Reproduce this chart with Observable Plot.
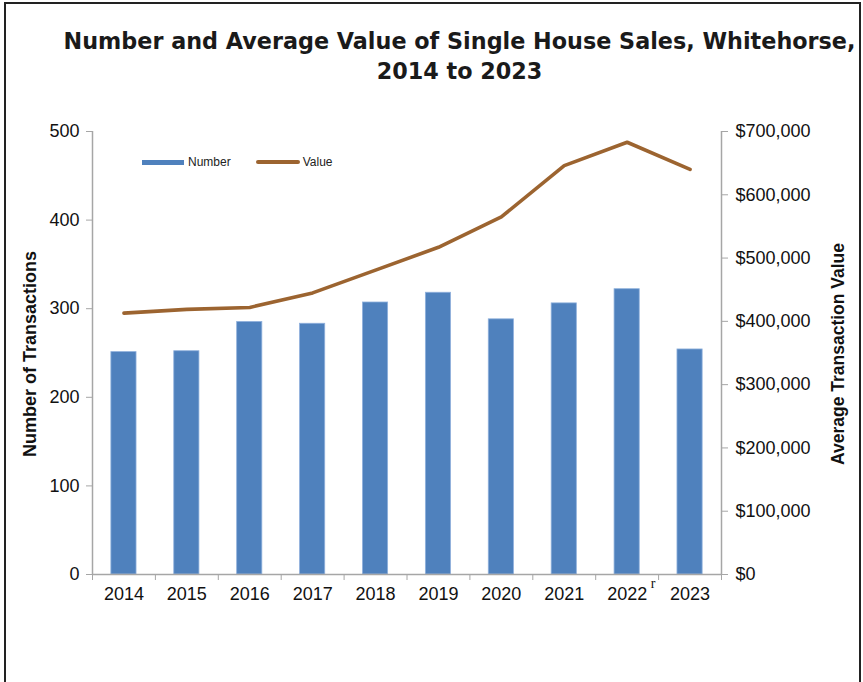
<!DOCTYPE html>
<html>
<head>
<meta charset="utf-8">
<script src="https://cdn.jsdelivr.net/npm/d3@7"></script>
<script src="https://cdn.jsdelivr.net/npm/@observablehq/plot@0.6"></script>
<style>
  html, body { margin: 0; padding: 0; background: #fff; }
  #wrap { position: relative; width: 863px; height: 682px; overflow: hidden; background: #fff; }
  #frame { position: absolute; left: 4px; top: 2px; width: 853px; height: 720px; border: 2px solid #222; pointer-events: none; }
  #title { position: absolute; left: 56px; top: 26px; width: 807px; text-align: center;
    font-family: "DejaVu Sans", sans-serif; font-weight: 700; font-size: 22.3px; line-height: 30px; color: #1a1a1a; }
  #plot { position: absolute; left: 0; top: 100px; }
  #legend { position: absolute; top: 155px; left: 142px; font-family: "Liberation Sans", Arial, sans-serif; font-size: 12px; color: #222; display: flex; align-items: center; }
  .sw { display: inline-block; }
</style>
</head>
<body>
<div id="wrap">
  <div id="title">Number and Average Value of Single House Sales, Whitehorse,<br>2014 to 2023</div>
  <div id="plot"></div>
  <div id="legend">
    <span class="sw" style="width:42px;height:5px;background:#4F81BD;margin-right:4px;"></span><span>Number</span>
    <span class="sw" style="width:44px;height:3.5px;background:#9C6430;border-radius:2px;margin-left:25px;margin-right:3px;"></span><span>Value</span>
  </div>
  <div id="frame"></div>
</div>
<script>
const years = [2014, 2015, 2016, 2017, 2018, 2019, 2020, 2021, 2022, 2023];
const numbers = [251, 252, 285, 283, 307, 318, 288, 306, 322, 254];
const values = [413000, 419000, 422000, 445000, 481000, 517000, 565000, 646000, 683000, 640000];
const numberTicks = [0, 100, 200, 300, 400, 500];
const valueTicks = [0, 100000, 200000, 300000, 400000, 500000, 600000, 700000];
const leftMax = 500, rightMax = 700000;

const data = years.map((year, i) => ({year, number: numbers[i], value: values[i]}));
const toLeft = v => v * leftMax / rightMax;
const xDomain = [years[0] - 0.5, years[years.length - 1] + 0.5];
const boundaries = d3.range(xDomain[0], xDomain[1] + 0.01, 1);

const axisColor = "#a6a6a6";
const font = "Liberation Sans, Arial, sans-serif";

const chart = Plot.plot({
  width: 863,
  height: 582,
  marginTop: 31,
  marginBottom: 108,
  marginLeft: 92,
  marginRight: 142,
  style: {fontFamily: font, fontSize: "18px", color: "#111", background: "transparent"},
  x: {type: "linear", domain: xDomain},
  y: {domain: [0, leftMax]},
  marks: [
    Plot.rectY(data, {x1: d => d.year - 0.2, x2: d => d.year + 0.2, y: "number", fill: "#4F81BD", stroke: "#8fb0dc", strokeWidth: 0.8}),
    Plot.line(data, {x: "year", y: d => toLeft(d.value), stroke: "#9C6430", strokeWidth: 3.6, strokeLinejoin: "round", strokeLinecap: "round"}),
    Plot.ruleY([0], {stroke: axisColor, strokeWidth: 1.5}),
    Plot.ruleX([xDomain[0]], {stroke: axisColor, strokeWidth: 1.5}),
    Plot.ruleX([xDomain[1]], {stroke: axisColor, strokeWidth: 1.5}),
    Plot.axisY({anchor: "left", ticks: numberTicks, tickSize: 6, tickPadding: 7, label: null, stroke: axisColor, fontSize: 18}),
    Plot.axisY({anchor: "right", ticks: valueTicks.map(toLeft), tickSize: 6, tickPadding: 8, label: null, stroke: axisColor, fontSize: 18,
      tickFormat: d => "$" + d3.format(",")(Math.round(d * rightMax / leftMax))}),
    Plot.axisX({ticks: boundaries, tickSize: 6, tickFormat: () => "", label: null, stroke: axisColor}),
    Plot.axisX({ticks: years, tickSize: 0, tickPadding: 13, tickFormat: d => String(d), label: null, fontSize: 18}),
    Plot.text(["r"], {x: years[8], y: 0, dx: 26, dy: 9, fontFamily: "Liberation Serif, serif", fontSize: 14, fill: "#111"}),
    Plot.text(["Number of Transactions"], {frameAnchor: "left", dx: -62, dy: 1, rotate: -90, textAnchor: "middle", fontWeight: "bold", fontSize: 18, fill: "#111"}),
    Plot.text(["Average Transaction Value"], {frameAnchor: "right", dx: 117, dy: 1, rotate: -90, textAnchor: "middle", fontWeight: "bold", fontSize: 17.5, fill: "#111"})
  ]
});
document.getElementById("plot").appendChild(chart);
</script>
</body>
</html>
